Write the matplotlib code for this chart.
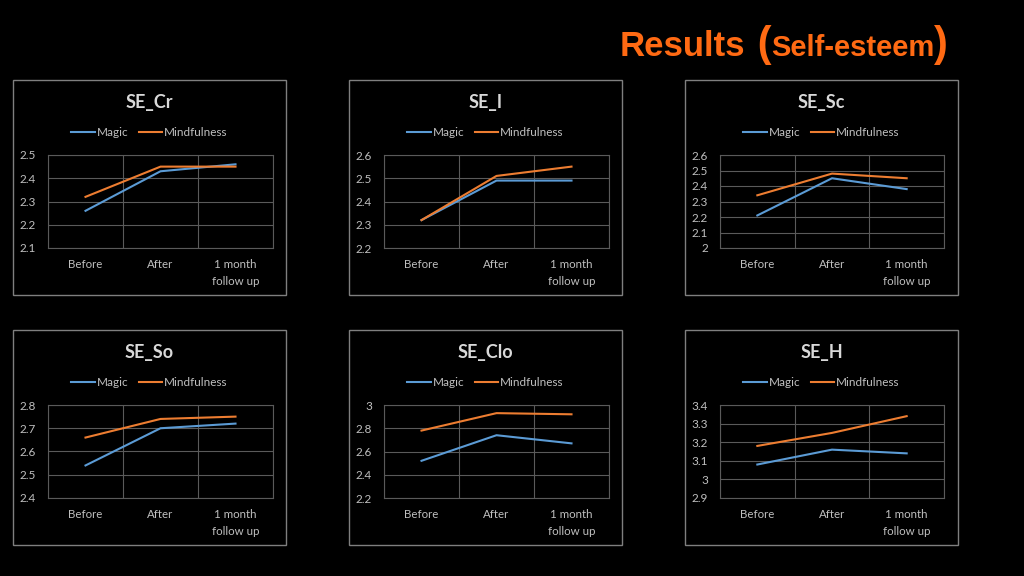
"""Results (Self-esteem) - six small line charts"""
import matplotlib
matplotlib.use('Agg')
import matplotlib.pyplot as plt
from matplotlib.patches import Rectangle

categories = ['Before', 'After', '1 month\nfollow up']
series_names = ['Magic', 'Mindfulness']

titles = ['SE_Cr', 'SE_I', 'SE_Sc', 'SE_So', 'SE_Clo', 'SE_H']
magic = [
    [2.26, 2.43, 2.46],
    [2.32, 2.49, 2.49],
    [2.21, 2.45, 2.38],
    [2.54, 2.70, 2.72],
    [2.52, 2.74, 2.67],
    [3.08, 3.16, 3.14],
]
mindfulness = [
    [2.32, 2.45, 2.45],
    [2.32, 2.51, 2.55],
    [2.34, 2.48, 2.45],
    [2.66, 2.74, 2.75],
    [2.78, 2.93, 2.92],
    [3.18, 3.25, 3.34],
]
y_ticks = [
    [2.1, 2.2, 2.3, 2.4, 2.5],
    [2.2, 2.3, 2.4, 2.5, 2.6],
    [2.0, 2.1, 2.2, 2.3, 2.4, 2.5, 2.6],
    [2.4, 2.5, 2.6, 2.7, 2.8],
    [2.2, 2.4, 2.6, 2.8, 3.0],
    [2.9, 3.0, 3.1, 3.2, 3.3, 3.4],
]

BLUE = '#5b9bd5'
ORANGE = '#ed7d31'
TXT = '#bfbfbf'
GRID = '#5a5a5a'
FONT = ['Lato', 'DejaVu Sans']

W, H = 1024, 576


def fmt(v):
    return '{:g}'.format(round(v, 2))


def main():
    fig = plt.figure(figsize=(W / 100, H / 100), dpi=100, facecolor='black')

    # panel frames (pixel coords) and plot areas
    frame_x = [13, 349, 685]
    frame_y = [80, 330]
    plot_x = [(48, 273), (384, 609), (720, 944)]
    frame_w, frame_h = 273, 215

    for i, name in enumerate(titles):
        r, c = divmod(i, 3)
        fx, fy = frame_x[c], frame_y[r]
        fig.patches.append(Rectangle((fx / W, 1 - (fy + frame_h) / H), frame_w / W, frame_h / H,
                                     transform=fig.transFigure, fill=False,
                                     edgecolor='#7f7f7f', linewidth=1.0))
        x0, x1 = plot_x[c]
        top = fy + 75
        bot = fy + 168
        ax = fig.add_axes([x0 / W, 1 - bot / H, (x1 - x0) / W, (bot - top) / H])
        ax.set_facecolor('black')
        xs = range(len(categories))
        ax.plot(xs, magic[i], color=BLUE, linewidth=1.5, label=series_names[0])
        ax.plot(xs, mindfulness[i], color=ORANGE, linewidth=1.5, label=series_names[1])
        ax.set_xlim(-0.5, 2.5)
        ax.set_ylim(y_ticks[i][0], y_ticks[i][-1])
        ax.set_yticks(y_ticks[i])
        ax.set_yticklabels([fmt(v) for v in y_ticks[i]], family=FONT, fontsize=8.5, color=TXT)
        ax.set_xticks(list(xs))
        ax.set_xticklabels(categories, family=FONT, fontsize=8.3, color=TXT, linespacing=1.6)
        ax.set_xticks([-0.5, 0.5, 1.5, 2.5], minor=True)
        ax.tick_params(which='both', length=0)
        ax.tick_params(axis='x', pad=8)
        ax.tick_params(axis='y', pad=8.5)
        ax.grid(True, axis='y', color=GRID, linewidth=0.8)
        ax.grid(True, axis='x', which='minor', color=GRID, linewidth=0.8)
        for sp in ax.spines.values():
            sp.set_color(GRID)
            sp.set_linewidth(0.8)
        # title and legend are centred on the frame, not on the plot area
        cx = (fx + frame_w / 2 - x0) / (x1 - x0)
        ax.set_title(name, family=FONT, fontsize=13, fontweight='bold', color='#d9d9d9',
                     pad=34, x=cx)
        leg = ax.legend(loc='lower center', bbox_to_anchor=(cx, 1.13), ncol=2, frameon=False,
                        prop={'family': FONT, 'size': 8.5}, handlelength=2.0, handletextpad=0.15,
                        columnspacing=0.9, borderaxespad=0)
        for t in leg.get_texts():
            t.set_color(TXT)

    # slide title built from pieces
    renderer = fig.canvas.get_renderer()
    x = 620
    base = 1 - 56 / H
    pieces = [('Results', 25), (' (', 30), ('Self-esteem', 21), (')', 30)]
    for text, size in pieces:
        t = fig.text(x / W, base, text, fontsize=size, fontweight='bold', color='#ff6a13',
                     family=['Liberation Sans', 'DejaVu Sans'], va='baseline', ha='left')
        bb = t.get_window_extent(renderer)
        x += bb.width

    fig.savefig('out.png', dpi=100, facecolor='black')


if __name__ == '__main__':
    main()
